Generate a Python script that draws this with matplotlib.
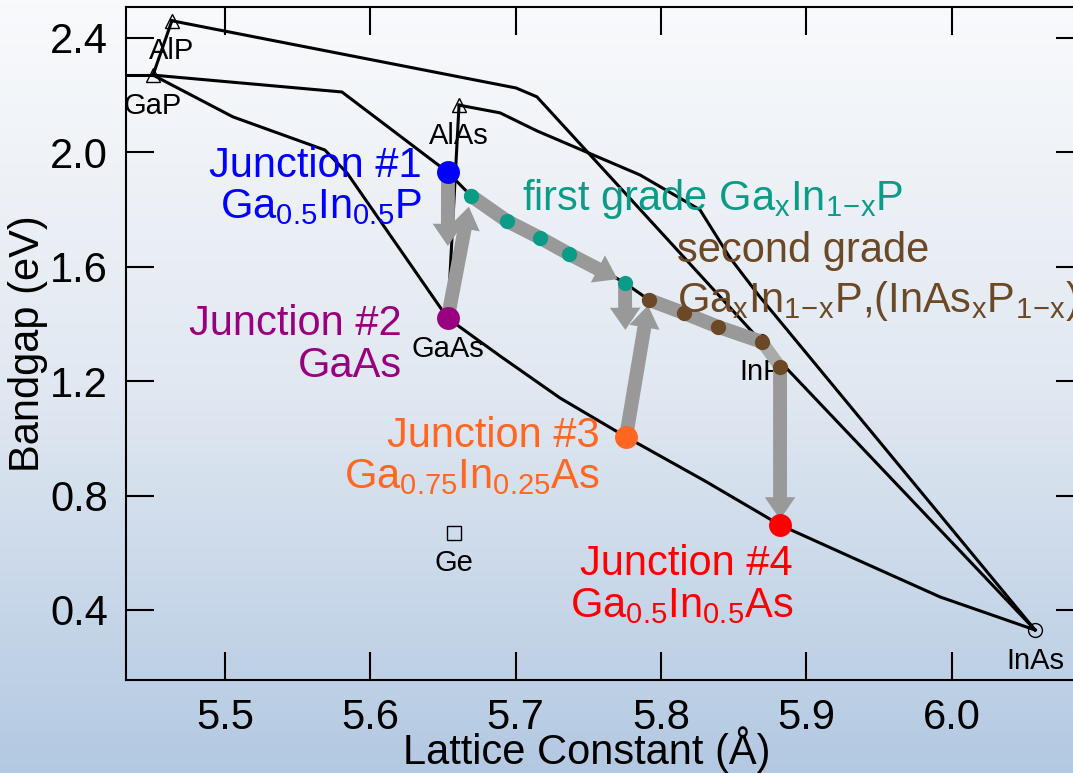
import numpy as np
import matplotlib
matplotlib.use('Agg')
import matplotlib.pyplot as plt
from matplotlib.colors import LinearSegmentedColormap

plt.rcParams['font.family'] = ['Liberation Sans', 'DejaVu Sans']
plt.rcParams['mathtext.fontset'] = 'custom'
plt.rcParams['mathtext.rm'] = 'Liberation Sans'
plt.rcParams['mathtext.it'] = 'Liberation Sans'
plt.rcParams['mathtext.default'] = 'regular'

# binary compounds (lattice constant in A, bandgap in eV)
mat_names = ['AlP', 'GaP', 'AlAs', 'GaAs', 'InP', 'InAs', 'Ge']
mat_a = [5.4635, 5.4505, 5.6611, 5.6533, 5.8687, 6.0575, 5.6576]
mat_eg = [2.46, 2.27, 2.165, 1.42, 1.34, 0.33, 0.67]
mat_marker = ['^', '^', '^', 'o', 'o', 'o', 's']

# ternary curves
alp_gap_a = [5.4635, 5.4505]
alp_gap_eg = [2.46, 2.27]
gap_edge_a = [5.40, 5.4505]
gap_edge_eg = [2.27, 2.27]
alinp_a = [5.4635, 5.7003, 5.7147, 5.8687]
alinp_eg = [2.46, 2.225, 2.194, 1.34]
gainp_a = [5.4505, 5.5805, 5.6535, 5.6693, 5.7753, 5.7918, 5.8687]
gainp_eg = [2.27, 2.211, 1.93, 1.848, 1.543, 1.484, 1.34]
gaasp_a = [5.4505, 5.5055, 5.5688, 5.584, 5.6533]
gaasp_eg = [2.27, 2.124, 2.008, 1.928, 1.42]
algaas_a = [5.6611, 5.6533]
algaas_eg = [2.165, 1.42]
alinas_a = [5.6611, 5.6893, 5.7147, 5.7856, 5.8269, 5.8476, 5.8682, 6.0575]
alinas_eg = [2.165, 2.138, 2.075, 1.921, 1.799, 1.631, 1.494, 0.33]
inasp_a = [5.8687, 6.0575]
inasp_eg = [1.34, 0.33]
gainas_a = [5.6533, 5.6893, 5.7306, 5.776, 5.8303, 5.882, 5.937, 5.9921, 6.0575]
gainas_eg = [1.42, 1.288, 1.141, 1.005, 0.851, 0.697, 0.571, 0.4455, 0.33]

# junctions and grades
junction_a = [5.6535, 5.6533, 5.776, 5.882]
junction_eg = [1.93, 1.42, 1.005, 0.697]
junction_names = ['Junction #1', 'Junction #2', 'Junction #3', 'Junction #4']
junction_alloys = ['Ga$_{0.5}$In$_{0.5}$P', 'GaAs',
                   'Ga$_{0.75}$In$_{0.25}$As', 'Ga$_{0.5}$In$_{0.5}$As']
junction_colors = ['#0000ff', '#990080', '#ff6622', '#ff0000']

grade1_a = [5.6693, 5.6941, 5.7168, 5.7367, 5.7753]
grade1_eg = [1.848, 1.760, 1.701, 1.645, 1.543]
grade2_a = [5.7918, 5.8159, 5.8393, 5.8696, 5.8820]
grade2_eg = [1.484, 1.438, 1.390, 1.337, 1.250]

teal = '#0b9c88'
brown = '#6b4826'
gray = '#999999'

fig = plt.figure(figsize=(10.73, 7.73), dpi=100)

# gradient background
bg = fig.add_axes([0, 0, 1, 1], zorder=-10)
grad = np.linspace(0, 1, 256).reshape(-1, 1)
cmap = LinearSegmentedColormap.from_list('bg', ['#f9fafc', '#e1e8f1', '#b3c9e2'])
bg.imshow(grad, aspect='auto', cmap=cmap, extent=[0, 1, 0, 1], origin='upper')
bg.axis('off')

ax = fig.add_axes([0.1174, 0.1203, 0.8929, 0.8706])
ax.set_facecolor('none')

# black curves
curves = [(alp_gap_a, alp_gap_eg), (gap_edge_a, gap_edge_eg), (alinp_a, alinp_eg),
          (gainp_a, gainp_eg), (gaasp_a, gaasp_eg), (algaas_a, algaas_eg),
          (alinas_a, alinas_eg), (inasp_a, inasp_eg), (gainas_a, gainas_eg)]
for xs, ys in curves:
    ax.plot(xs, ys, color='black', lw=2.2, zorder=2, solid_joinstyle='round')

# material markers and labels
for name, a, eg, m in zip(mat_names, mat_a, mat_eg, mat_marker):
    ax.plot(a, eg, marker=m, ms=10, mfc='none', mec='black', mew=1, zorder=2.5)
    ax.annotate(name, (a, eg), xytext=(0, -22), textcoords='offset points',
                ha='center', va='center', fontsize=21, zorder=2.6)


def arrow(p0, p1, shrink=0):
    ax.annotate('', xy=p1, xytext=p0, zorder=3,
                arrowprops=dict(arrowstyle='simple,head_length=1.6,head_width=2.2,tail_width=1.0',
                                mutation_scale=10, color=gray, lw=0,
                                shrinkA=0, shrinkB=shrink))


J = list(zip(junction_a, junction_eg))
G1 = list(zip(grade1_a, grade1_eg))
G2 = list(zip(grade2_a, grade2_eg))

arrow(J[0], J[1], shrink=52)
arrow(J[1], G1[0], shrink=8)
ax.plot(grade1_a[:4], grade1_eg[:4], color=gray, lw=10, solid_capstyle='round',
        solid_joinstyle='round', zorder=3)
arrow(G1[3], G1[4], shrink=6)
arrow(G1[4], J[2], shrink=77)
arrow(J[2], G2[0], shrink=4)
ax.plot(grade2_a[:4], grade2_eg[:4], color=gray, lw=10, solid_capstyle='round',
        solid_joinstyle='round', zorder=3)
ax.plot(grade2_a[3:], grade2_eg[3:], color='#aaaaaa', lw=9, solid_capstyle='round', zorder=3)
arrow(G2[4], J[3], shrink=4)

ax.plot(grade1_a, grade1_eg, 'o', color=teal, ms=11, mew=0, zorder=4)
ax.plot(grade2_a, grade2_eg, 'o', color=brown, ms=11, mew=0, zorder=4)
for a, eg, c in zip(junction_a, junction_eg, junction_colors):
    ax.plot(a, eg, 'o', color=c, ms=16.5, mew=0, zorder=5)

# junction labels (two lines each)
label_pos = [(5.6356, 1.914, 1.771), (5.6218, 1.3615, 1.2147),
             (5.7581, 0.970, 0.8266), (5.8909, 0.5224, 0.3755)]
for (x, y1, y2), name, alloy, c in zip(label_pos, junction_names, junction_alloys, junction_colors):
    ax.text(x, y1, name, color=c, fontsize=30, ha='right', va='baseline', zorder=6)
    ax.text(x, y2, alloy, color=c, fontsize=30, ha='right', va='baseline', zorder=6)

ax.text(5.7044, 1.7986, r'first grade Ga$_x$In$_{1\!-\!x}$P', color=teal, fontsize=30,
        ha='left', va='baseline', zorder=6)
ax.text(5.8111, 1.6168, 'second grade', color=brown, fontsize=30,
        ha='left', va='baseline', zorder=6)
ax.text(5.8111, 1.4420, r'Ga$_x$In$_{1\!-\!x}$P,(InAs$_x$P$_{1\!-\!x}$)', color=brown, fontsize=30,
        ha='left', va='baseline', zorder=6)

ax.set_xlim(5.4319, 6.0912)
ax.set_ylim(0.155, 2.508)
ax.set_xticks([5.5, 5.6, 5.7, 5.8, 5.9, 6.0])
ax.set_yticks([0.4, 0.8, 1.2, 1.6, 2.0, 2.4])
ax.xaxis.set_major_formatter(plt.FormatStrFormatter('%.1f'))
ax.yaxis.set_major_formatter(plt.FormatStrFormatter('%.1f'))
ax.tick_params(direction='in', length=20, width=1.5, top=True, right=True,
               labelsize=30, pad=13)
for s in ax.spines.values():
    s.set_linewidth(1.5)

ax.set_xlabel('Lattice Constant (Å)', fontsize=30)
ax.set_ylabel('Bandgap (eV)', fontsize=30)
ax.xaxis.set_label_coords(0.481, -0.104)
ax.xaxis.label.set_va('center')
ax.yaxis.set_label_coords(-0.102, 0.5)
ax.yaxis.label.set_va('center')

fig.savefig('out.png', dpi=100)
